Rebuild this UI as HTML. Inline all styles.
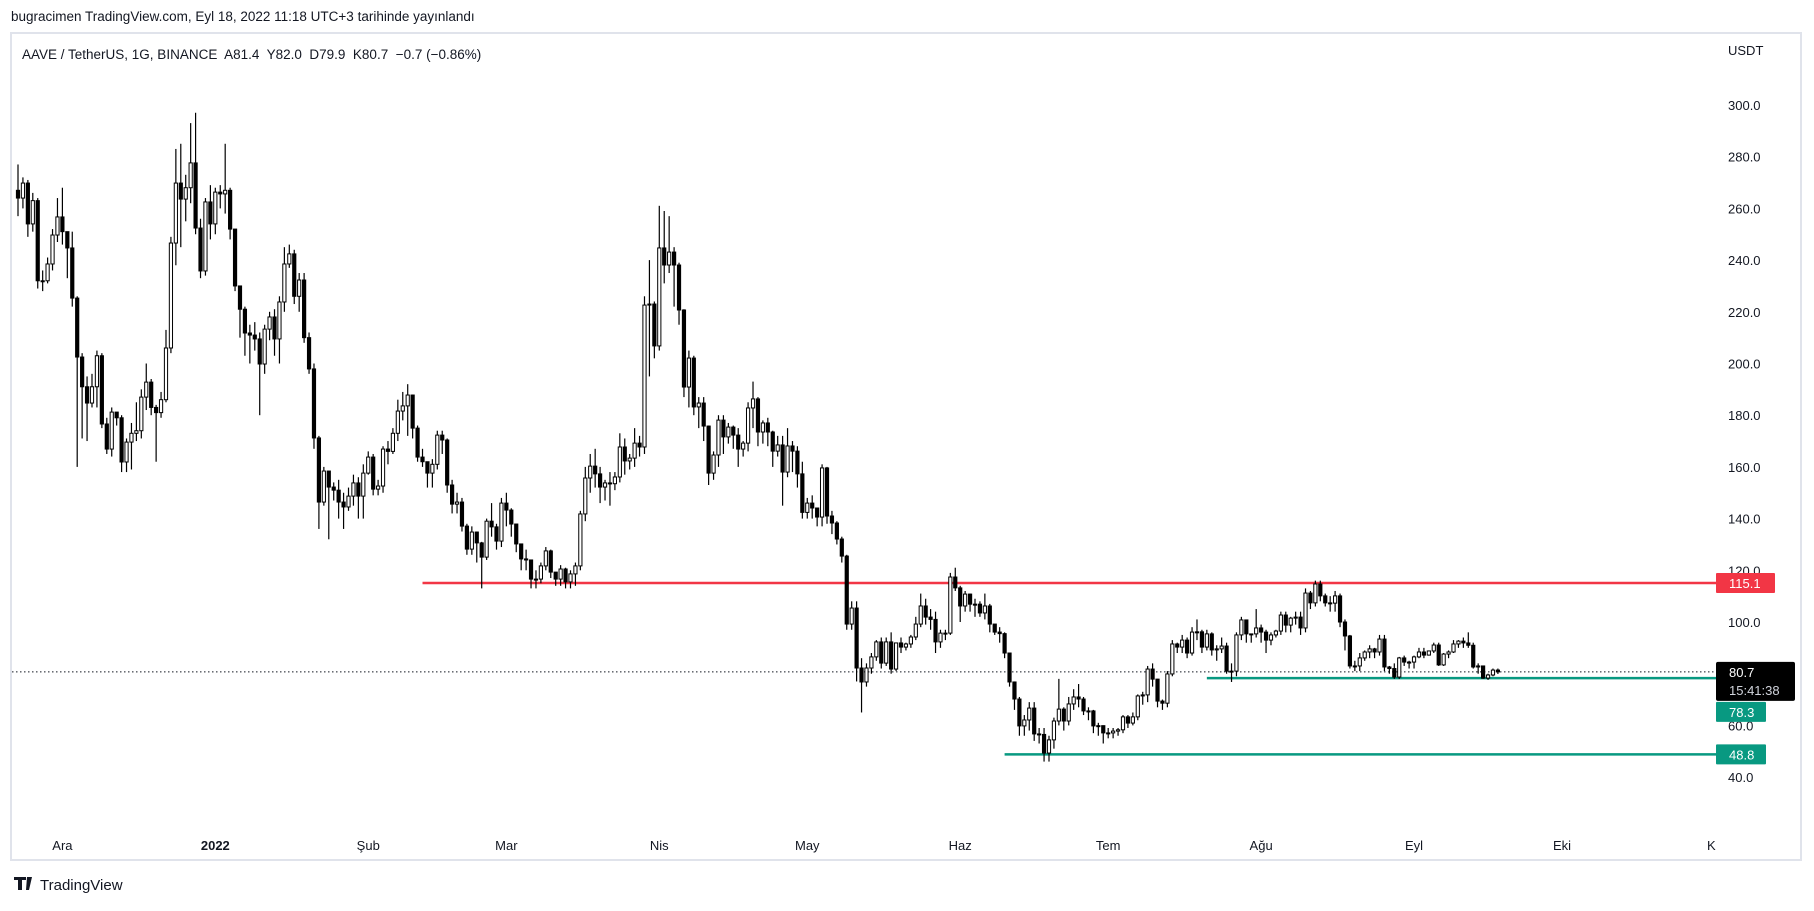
<!DOCTYPE html>
<html><head><meta charset="utf-8"><style>
body{margin:0;background:#fff;width:1814px;height:906px;overflow:hidden;font-family:"Liberation Sans",sans-serif}
svg text{font-family:"Liberation Sans",sans-serif;white-space:pre}
</style></head><body>
<svg id="chart" width="1814" height="906" viewBox="0 0 1814 906" xmlns="http://www.w3.org/2000/svg">
<text x="11" y="21" font-size="13.5" fill="#131722">bugracimen TradingView.com, Eyl 18, 2022 11:18 UTC+3 tarihinde yayınlandı</text>
<rect x="11" y="33" width="1790" height="827" fill="#fff" stroke="#e0e3eb" stroke-width="2"/>
<text x="22" y="59" font-size="13.5" fill="#131722" xml:space="preserve">AAVE / TetherUS, 1G, BINANCE  A81.4  Y82.0  D79.9  K80.7  −0.7 (−0.86%)</text>
<text x="1728" y="55" font-size="13" fill="#131722">USDT</text>
<g id="grid"></g><g id="hlines"></g><g id="candles"></g><g id="axis"></g><g id="tags"></g>
<text x="40" y="890" font-size="15" fill="#131722">TradingView</text>
<path d="M14 877h12v3h-4v10h-4v-10h-4z M27 877h5l-3 13h-3z" fill="#131722"/>
</svg>
<script>
const closes=[264,269.8,254,263,232,232,238.5,249.7,256.7,251,244.7,225.3,202.5,191,184.7,191,203,176.6,166.9,181.2,179,161.9,169.6,173,174,187,192.8,183,181,186,206,246.6,269.8,263.6,268,277.6,252.4,235.8,262.5,254,266.3,265.6,267,252,230,221,211.8,211,209.5,199.8,213.3,218,209.5,223.8,238.5,242.4,226,232.3,210,197.9,171.2,146.4,158.4,152.2,151,146.4,144.5,148.7,153.8,148.7,157.6,163.8,151.4,152.6,166.9,166,173,181.6,183.6,187.8,175,163.8,162,157.6,161,172.3,170.4,153,145.6,146.4,137.1,128.2,134.8,130.6,125.1,139,136.8,131.3,146,143.3,137.9,130.2,124.4,124,116.6,116.6,121.7,127.5,119.3,116.6,120.5,115.5,118.6,121.7,141.8,155.7,160.3,157.3,152.2,153.8,153.5,156.1,167.7,162.3,163.4,169.2,167.7,222.6,223,206.8,244.7,238.1,243.1,238.1,220.7,190.9,202.1,183.2,184.7,175.8,157.6,164.6,178.1,171.6,175.4,172.3,166.9,169.2,182.8,186.3,173.5,177,173.5,166.1,168.5,158,168.1,166.1,157.3,142.4,146,144.1,140.6,159.6,141,138.3,132.1,125.5,99.2,105.4,82.2,76.8,82.2,86.5,92.3,84.1,92.3,81.8,91.9,90.3,91.5,94.2,99.2,106.2,101.9,101,92.3,95.7,95.7,117.4,113.2,106.2,110.8,106.9,106.9,103.5,106.2,99.2,96.1,95.5,88,76.8,70.2,59.8,62.1,66.7,56.7,56.5,49.3,54.4,61.7,66.3,61.7,68.3,71,70.2,65.6,65.6,59.8,59.9,57.1,57.1,57.8,58.3,63.3,60.9,63.3,71.4,71.8,81.8,77.9,69.4,68.6,79.9,91.5,90.3,93,88,96.1,96.2,90.3,95.4,89.2,89.6,90.7,81,81,95,100.8,95.4,95.4,97.7,96.1,93,95,96.5,102.7,98.8,101.5,101.9,97.7,111.2,107.4,114.7,110.1,107.4,107.3,110.1,100,94.6,83,83,86.1,88.4,89.6,88.4,93.4,82.6,82,78.7,86.1,84.5,84.5,86.5,88.4,87.2,88.8,91.1,83.4,87.6,88.4,91.5,92.6,91.9,91,82.6,83,78.3,79.5,81.4,80.7];
const highs=[277,272,271,266,264,236,241,252,264,268,251,251,226,204,195,196,205,204,179,183,181,180,171,177,185,190,200,194,184,189,213,249,283,285,273,293,297,256,264,269,268,269,285,268,252,230,222,215,216,212,215,220,221,226,245,246,244,235,235,212,200,172,160,158,154,155,150,152,157,156,161,166,165,155,168,170,175,186,189,192,188,176,167,162,163,174,174,171,155,150,148,138,137,135,131,140,146,138,148,150,144,138,130,128,124,120,123,129,128,119,122,121,120,123,143,160,165,167,160,155,158,158,173,171,165,175,172,226,240,224,261,259,257,245,239,221,205,203,187,187,176,166,180,180,177,176,175,170,185,193,187,178,179,174,172,172,175,170,168,162,148,149,144,161,160,143,139,133,126,108,108,86,84,88,93,94,94,96,92,94,92,95,102,111,109,105,104,97,97,119,121,114,112,111,109,108,111,107,99,98,96,88,77,71,64,69,69,59,59,56,63,78,67,71,74,76,71,67,66,61,60,59,59,59,64,64,65,72,73,83,84,78,70,81,93,92,95,94,98,101,97,97,96,91,94,92,84,96,102,100,95.5,105,99,97,96,97,104,104,102,104,104,113,112,116,116,111,110,112,111,101,95,85,88,89,91,90,95,95,83,84,86.5,87,85,87,90,90,89,92,92,88,89,93,93,94,96,92,84,83,80,82,82];
const lows=[257,260,249,251,229,228,231,236,247,246,233,222,160,171,170,183,183,175,165,164,176,158,158,159,170,171,182,180,162,179,185,204,238,245,255,262,250,233,234,248,250,260,258,248,228,210,203,200,205,180,196,209,203,200,220,237,223,220,208,196,167,136,145,132,147,140,136,143,145,140,140,157,149,149,150,161,165,170,178,172,171,162,160,152,152,159,165,150,142,142,135,126,126,123,113,124,133,128,129,137,133,127,120,120,113,113,115,120,117,114,114,113,113,114,120,139,150,152,146,147,145,151,154,157,159,160,164,165,195,202,205,231,235,222,215,187,183,180,175,170,153,155,160,165,169,167,160,164,166,175,168,169,168,160,164,145,156,158,152,140,140,140,137,137,138,134,130,123,97,97,77,65,75,80,85,82,83,80,81,88,89,90,93,98,99,97,88,90,93,95,112,100,104,104,102,102,101,96,95,92,86,75,66,56,56,58,54,53,46,46,51,60,58,60,66,67,64,62,57,56,53,55,55,56,57,59,60,62,68,69,75,67,66,67,79,88,88,86,87,93,88,89,87,85,88,80,76.8,79,93,92,92,94,92,88,91,94,95,96,96,99,95,96,105,106,108,106,104,104,98,89,82,81,81,85,86,86,87,81,80,78,78,83,82,82,86,86,87,88,83,83,86,88,90,90,90,82,80,78,77.6,79,79.9];
const firstOpen=267;
const priceTicks=[40,60,80,100,120,140,160,180,200,220,240,260,280,300];
const monthLabels=["Ara","2022","Şub","Mar","Nis","May","Haz","Tem","Ağu","Eyl","Eki","Ka"];
const monthDays=[0,31,62,90,121,151,182,212,243,274,304,335];
const levelPrices=[115.1,78.3,48.8];
const levelStartIdx=[82,241,200];
const lastPrice=80.7;

const NS="http://www.w3.org/2000/svg";
const y=p=>622-(p-100)*2.585;
const xi=i=>18+4.933*i;
const xd=d=>62.4+4.933*d;
function mk(tag,attrs,parent){const e=document.createElementNS(NS,tag);for(const k in attrs)e.setAttribute(k,attrs[k]);parent.appendChild(e);return e;}
const grid=document.getElementById('grid'),hl=document.getElementById('hlines'),cg=document.getElementById('candles'),ax=document.getElementById('axis'),tg=document.getElementById('tags');
priceTicks.forEach(p=>{const t=mk('text',{x:1728,y:y(p)+5,'font-size':13,fill:'#131722'},ax);t.textContent=p.toFixed(1);

});
monthLabels.forEach((m,k)=>{const t=mk('text',{x:xd(monthDays[k]),y:850,'font-size':13,fill:'#131722','text-anchor':'middle','font-weight':m==='2022'?'bold':'normal'},ax);t.textContent=m;

});
mk('rect',{x:1716,y:832,width:84,height:26,fill:'#fff'},ax);
const dl=mk('line',{x1:12,x2:1716,y1:y(lastPrice),y2:y(lastPrice),stroke:'#131722','stroke-width':1,'stroke-dasharray':'1.5 2.5'},grid);


closes.forEach((c,i)=>{
  const o=i===0?firstOpen:closes[i-1];
  const x=xi(i),up=c>=o;
  const g=mk('g',{},cg);
  
  
  const top=y(Math.max(o,c)),bot=y(Math.min(o,c));
  mk('line',{x1:x,x2:x,y1:y(highs[i]),y2:top,stroke:'#000','stroke-width':1.2},g);
  mk('line',{x1:x,x2:x,y1:bot,y2:y(lows[i]),stroke:'#000','stroke-width':1.2},g);
  mk('rect',{x:x-1.6,y:top,width:3.2,height:Math.max(bot-top,1),fill:up?'#fff':'#000',stroke:'#000','stroke-width':1},g);
});
// last price tag (drawn first so level tags can sit below it)
const lr=mk('rect',{x:1716,y:y(lastPrice)-10,width:79,height:39,fill:'#000',rx:2},tg);


const lt=mk('text',{x:1729,y:y(lastPrice)+5,'font-size':13,fill:'#fff'},tg);lt.textContent=lastPrice.toFixed(1);


const ct=mk('text',{x:1729,y:y(lastPrice)+23,'font-size':13,fill:'#d1d4dc'},tg);ct.textContent='15:41:38';


const lastBottom=y(lastPrice)-10+39;
const colors=['#f23645','#089981','#089981'];
levelPrices.forEach((p,k)=>{const l=mk('line',{x1:xi(levelStartIdx[k]),x2:1716,y1:y(p),y2:y(p),stroke:colors[k],'stroke-width':2.5},hl);


let ty=y(p)-10;
if(ty<lastBottom && ty+20>y(lastPrice)-10) ty=lastBottom+1;
const r=mk('rect',{x:1716,y:ty,width:k===0?59:50,height:20,fill:colors[k],rx:1},tg);


const t=mk('text',{x:1729,y:ty+15,'font-size':13,fill:'#fff'},tg);t.textContent=p.toFixed(1);

});
</script>
</body></html>
